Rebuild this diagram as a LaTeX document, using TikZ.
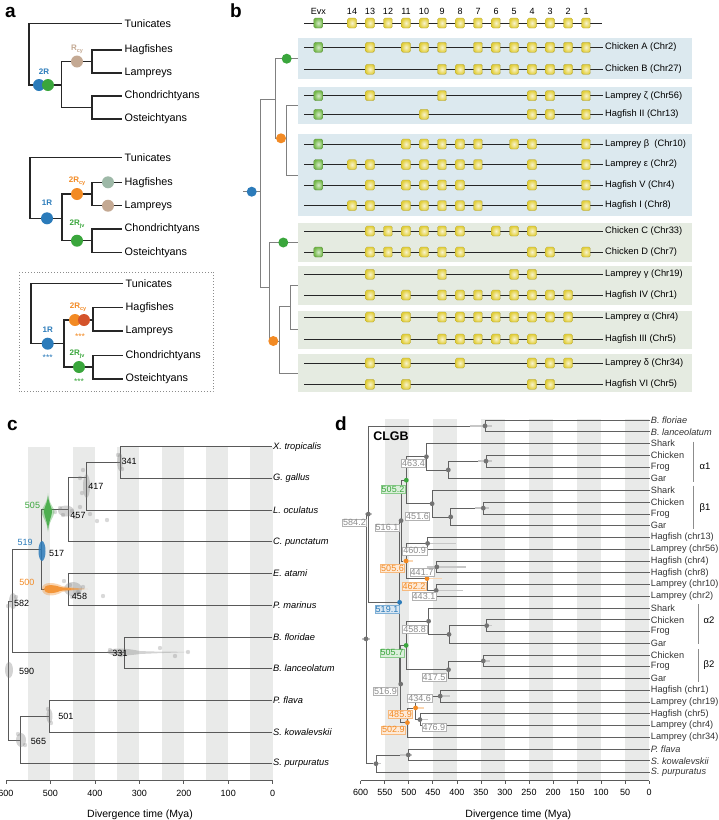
\documentclass[tikz,border=0pt]{standalone}
\usepackage{fontspec}
\setmainfont{Liberation Sans}
\usetikzlibrary{positioning,arrows.meta}

\definecolor{cblue}{HTML}{2B7BBA}
\definecolor{cgreen}{HTML}{3AA63C}
\definecolor{corange}{HTML}{F28A24}
\definecolor{ctan}{HTML}{C4A993}
\definecolor{csage}{HTML}{9EB9A8}
\definecolor{cred}{HTML}{D4532B}
\definecolor{bgblue}{HTML}{DCE9EF}
\definecolor{bggreen}{HTML}{E5EBE1}
\definecolor{band}{HTML}{E9EAE9}
\definecolor{hoxy}{HTML}{E2CF3C}
\definecolor{evxg}{HTML}{74B84A}

% small subscript for the event labels
\newcommand{\evsub}[1]{\raisebox{-0.45ex}{\fontsize{5.5}{6}\selectfont #1}}

% one row of panel b: name, y, label, genes (0 = Evx)
\newcommand{\hoxrow}[4]{%
  \coordinate (#1s) at (304.3,#2);
  \node[rowlab] (#1) at (603,#2) {#3};
  \draw[rowline] (#1s) -- (#1.west);
  \foreach \g in {#4}{%
    \ifnum\g=0
      \node[evxbox] (#1-\g) at (318.3,#2) {};
    \else
      \node[hoxbox] (#1-\g) at ({604-18*\g},#2) {};
    \fi}%
}

% shaded group of panel b: name, top, bottom, colour
\newcommand{\grpbox}[4]{%
  \fill[#4] (298.3,#2) rectangle (691.7,#3);
  \coordinate (#1) at (298.3,{(#2+#3)/2});
}

\begin{document}
\begin{tikzpicture}[x=1pt,y=-1pt,
	panel/.style={font=\bfseries\fontsize{19}{20}\selectfont, anchor=base west, inner sep=0pt},
	tree/.style={line width=1.2pt, draw=black!85},
	lab/.style={anchor=west, inner sep=2.5pt, font=\fontsize{10.8}{12}\selectfont},
	ev/.style={circle, inner sep=0pt, minimum size=12pt},
	evlab/.style={font=\bfseries\fontsize{8}{9}\selectfont, inner sep=0pt},
	stars/.style={font=\fontsize{8.5}{9}\selectfont, inner sep=0pt},
	btree/.style={draw=black!50, line width=0.8pt},
	bdot/.style={circle, inner sep=0pt, minimum size=10pt},
	rowline/.style={draw=black!85, line width=0.9pt},
	rowlab/.style={anchor=west, inner sep=2pt, font=\fontsize{9.3}{11}\selectfont},
	genelab/.style={font=\fontsize{9}{10}\selectfont, inner sep=0pt},
	hoxbox/.style={rectangle, rounded corners=1.5pt, minimum width=9pt, minimum height=10pt,
		inner sep=0pt, draw=hoxy!75!black, line width=0.3pt, inner color=hoxy!25, outer color=hoxy},
	evxbox/.style={hoxbox, draw=evxg!75!black, inner color=evxg!30, outer color=evxg},
	ctree/.style={draw=black!65, line width=0.7pt},
	ctip/.style={anchor=west, inner sep=1.5pt, font=\itshape\fontsize{9.3}{11}\selectfont},
	cnum/.style={font=\fontsize{9}{10}\selectfont, inner sep=0pt},
	axlab/.style={font=\fontsize{9}{10}\selectfont, inner sep=0pt},
	axtitle/.style={font=\fontsize{10.5}{12}\selectfont, inner sep=0pt},
	cloud/.style={fill=black!50, opacity=.35},
	dtree/.style={draw=black!62, line width=0.8pt},
	dtip/.style={anchor=west, inner sep=1.2pt, font=\fontsize{9.2}{10}\selectfont, text=black!80},
	dlab/.style={draw=black!30, fill=white, text=black!45, inner sep=0.8pt, line width=0.4pt,
		font=\fontsize{9}{10}\selectfont},
	dlabg/.style={dlab, draw=cgreen!60, fill=cgreen!18, text=cgreen},
	dlabo/.style={dlab, draw=corange!60, fill=corange!18, text=corange},
	dlabb/.style={dlab, draw=cblue!60, fill=cblue!18, text=cblue},
	dbar/.style={draw=black!22, line width=1.3pt},
	brk/.style={draw=black!45, line width=1.4pt},
	glab/.style={font=\fontsize{9.5}{10}\selectfont, inner sep=0pt}
	]
	\useasboundingbox (0,0) rectangle (719,820);

	% ---------------- a
	\node[panel] (pa) at (5,17) {a};
	% tree 1
	\node[lab] (t1tun) at (122,23.3) {Tunicates};
	\node[lab] (t1hag) at (122,50) {Hagfishes};
	\node[lab] (t1lam) at (122,73) {Lampreys};
	\node[lab] (t1cho) at (122,96) {Chondrichtyans};
	\node[lab] (t1ost) at (122,119) {Osteichtyans};
	\coordinate (t1r) at (29,54);
	\coordinate (t1v) at (61.7,85);
	\coordinate (t1c) at (92,61.5);
	\coordinate (t1g) at (92,107.5);
	\draw[tree] (t1r) |- (t1tun.west);
	\draw[tree] (t1r) |- (t1v);
	\draw[tree] (t1v) |- (t1c);
	\draw[tree] (t1v) |- (t1g);
	\draw[tree] (t1c) |- (t1hag.west);
	\draw[tree] (t1c) |- (t1lam.west);
	\draw[tree] (t1g) |- (t1cho.west);
	\draw[tree] (t1g) |- (t1ost.west);
	\node[ev, fill=cblue] (t1e1) at (39,85) {};
	\node[ev, fill=cgreen] (t1e2) at (48,85) {};
	\node[ev, fill=ctan] (t1e3) at (77,61.5) {};
	\node[evlab, text=cblue] (t1l1) at (44,72) {2R};
	\node[evlab, text=ctan] (t1l3) at (77,49.5) {R\evsub{cy}};

	% tree 2
	\node[lab] (t2tun) at (122,157.3) {Tunicates};
	\node[lab] (t2hag) at (122,182.3) {Hagfishes};
	\node[lab] (t2lam) at (122,205.7) {Lampreys};
	\node[lab] (t2cho) at (122,229) {Chondrichtyans};
	\node[lab] (t2ost) at (122,252.3) {Osteichtyans};
	\coordinate (t2r) at (30,187.8);
	\coordinate (t2v) at (62,218.3);
	\coordinate (t2c) at (92,194);
	\coordinate (t2g) at (92,240.7);
	\draw[tree] (t2r) |- (t2tun.west);
	\draw[tree] (t2r) |- (t2v);
	\draw[tree] (t2v) |- (t2c);
	\draw[tree] (t2v) |- (t2g);
	\draw[tree] (t2c) |- (t2hag.west);
	\draw[tree] (t2c) |- (t2lam.west);
	\draw[tree] (t2g) |- (t2cho.west);
	\draw[tree] (t2g) |- (t2ost.west);
	\node[ev, fill=cblue] (t2e1) at (47,218.3) {};
	\node[ev, fill=corange] (t2e2) at (77,194) {};
	\node[ev, fill=cgreen] (t2e3) at (77,240.7) {};
	\node[ev, fill=csage] (t2e4) at (108,182.3) {};
	\node[ev, fill=ctan] (t2e5) at (108,205.7) {};
	\node[evlab, text=cblue] (t2l1) at (47,203) {1R};
	\node[evlab, text=corange] (t2l2) at (77,181.5) {2R\evsub{cy}};
	\node[evlab, text=cgreen] (t2l3) at (77,224.5) {2R\evsub{jv}};

	% tree 3 (dotted frame)
	\draw[dotted, black!45, line width=0.9pt] (19,272) rectangle (213,391.7);
	\node[lab] (t3tun) at (123,283.3) {Tunicates};
	\node[lab] (t3hag) at (123,307.7) {Hagfishes};
	\node[lab] (t3lam) at (123,331) {Lampreys};
	\node[lab] (t3cho) at (123,355.7) {Chondrichtyans};
	\node[lab] (t3ost) at (123,379) {Osteichtyans};
	\coordinate (t3r) at (31,313.5);
	\coordinate (t3v) at (64,343.7);
	\coordinate (t3c) at (93,320);
	\coordinate (t3g) at (93,367);
	\draw[tree] (t3r) |- (t3tun.west);
	\draw[tree] (t3r) |- (t3v);
	\draw[tree] (t3v) |- (t3c);
	\draw[tree] (t3v) |- (t3g);
	\draw[tree] (t3c) |- (t3hag.west);
	\draw[tree] (t3c) |- (t3lam.west);
	\draw[tree] (t3g) |- (t3cho.west);
	\draw[tree] (t3g) |- (t3ost.west);
	\node[ev, fill=cblue] (t3e1) at (47.7,343.7) {};
	\node[ev, fill=corange] (t3e2) at (75,320) {};
	\node[ev, fill=cred] (t3e3) at (84,320) {};
	\node[ev, fill=cgreen] (t3e4) at (79,367) {};
	\node[evlab, text=cblue] (t3l1) at (47.7,329.5) {1R};
	\node[stars, text=cblue] (t3s1) at (47.7,358) {***};
	\node[evlab, text=corange] (t3l2) at (78,307) {2R\evsub{cy}};
	\node[stars, text=corange] (t3s2) at (80,336.5) {***};
	\node[evlab, text=cgreen] (t3l4) at (77,354) {2R\evsub{jv}};
	\node[stars, text=cgreen] (t3s4) at (79,381.5) {***};

	% ---------------- b
	\node[panel] (pb) at (230,17) {b};
	\grpbox{bg1}{38.3}{79}{bgblue}
	\grpbox{bg2}{86.7}{124}{bgblue}
	\grpbox{bg3}{134.3}{215.7}{bgblue}
	\grpbox{bg4}{223.3}{261.7}{bggreen}
	\grpbox{bg5}{266}{305}{bggreen}
	\grpbox{bg6}{310.7}{349}{bggreen}
	\grpbox{bg7}{354.3}{392.3}{bggreen}

	% gene names and full cluster
	\node[genelab] (g0) at (318.3,11) {Evx};
	\foreach \g in {1,...,14}
		\node[genelab] (g\g) at ({604-18*\g},11) {\g};
	\coordinate (hdrs) at (304.3,23);
	\coordinate (hdre) at (601.7,23);
	\draw[rowline] (hdrs) -- (hdre);
	\node[evxbox] (hdr-0) at (318.3,23) {};
	\foreach \g in {1,...,14}
		\node[hoxbox] (hdr-\g) at ({604-18*\g},23) {};

	\hoxrow{chA}{47.3}{Chicken A (Chr2)}{0,13,11,10,9,7,6,5,4,3,2,1}
	\hoxrow{chB}{69.3}{Chicken B (Chr27)}{13,9,8,7,6,5,4,3,2,1}
	\hoxrow{lmZ}{95.7}{Lamprey ζ (Chr56)}{0,13,9,4,3,1}
	\hoxrow{hgII}{114.3}{Hagfish II (Chr13)}{0,10,4,3,1}
	\hoxrow{lmB}{144}{Lamprey β \ (Chr10)}{0,11,10,9,8,7,5,4,1}
	\hoxrow{lmE}{164.5}{Lamprey ε (Chr2)}{0,14,13,11,10,9,8,7,4,1}
	\hoxrow{hgV}{185}{Hagfish V (Chr4)}{0,13,11,10,9,8,4,1}
	\hoxrow{hgI}{205.5}{Hagfish I (Chr8)}{14,13,11,10,9,8,7,4,1}
	\hoxrow{chC}{231}{Chicken C (Chr33)}{13,12,11,10,9,8,6,5,4}
	\hoxrow{chD}{252}{Chicken D (Chr7)}{0,13,12,11,10,9,8,4,3,1}
	\hoxrow{lmG}{274.3}{Lamprey γ (Chr19)}{13,9,5,4}
	\hoxrow{hgIV}{295}{Hagfish IV (Chr1)}{13,11,9,8,7,6,5,4,3,2}
	\hoxrow{lmA}{317}{Lamprey α (Chr4)}{13,11,9,8,7,6,5,4,3,2}
	\hoxrow{hgIII}{339}{Hagfish III (Chr5)}{11,9,8,7,6,5,4,2}
	\hoxrow{lmD}{363}{Lamprey δ (Chr34)}{13,11,8,4,3,2}
	\hoxrow{hgVI}{384.3}{Hagfish VI (Chr5)}{13,11,4,3}

	% tree of the clusters
	\coordinate (bstem) at (243,191.7);
	\coordinate (broot) at (260,191.7);
	\coordinate (bup) at (275,99);
	\coordinate (bupo) at (286.7,138.3);
	\coordinate (blow) at (269.3,287.3);
	\coordinate (blowo) at (279.3,341);
	\coordinate (blh) at (290,306.7);
	\draw[btree] (bstem) -- (broot);
	\draw[btree] (broot) |- (bup);
	\draw[btree] (broot) |- (blow);
	\draw[btree] (bup) |- (bg1);
	\draw[btree] (bup) |- (bupo);
	\draw[btree] (bupo) |- (bg2);
	\draw[btree] (bupo) |- (bg3);
	\draw[btree] (blow) |- (bg4);
	\draw[btree] (blow) |- (blowo);
	\draw[btree] (blowo) |- (blh);
	\draw[btree] (blowo) |- (bg7);
	\draw[btree] (blh) |- (bg5);
	\draw[btree] (blh) |- (bg6);
	\node[bdot, fill=cblue] (be1) at (251.7,191.7) {};
	\node[bdot, fill=cgreen] (be2) at (286.7,58.7) {};
	\node[bdot, fill=corange] (be3) at (281,138.3) {};
	\node[bdot, fill=cgreen] (be4) at (283.3,242.5) {};
	\node[bdot, fill=corange] (be5) at (273.3,341) {};

	% ---------------- c
	\node[panel] (pc) at (7,430) {c};
	\foreach \t in {550,450,350,250,150,50}
		\fill[band] ({272.7-0.4445*\t},446.7) rectangle ({272.7-0.4445*(\t-50)},780.7);
	\coordinate (cax0) at (6,780.7);
	\coordinate (cax1) at (272.7,780.7);
	\draw[ctree] (cax0) -- (cax1);
	\foreach \t in {0,100,...,600}{
		\draw[ctree] ({272.7-0.4445*\t},780.7) -- ({272.7-0.4445*\t},784);
		\node[axlab] (cx\t) at ({272.7-0.4445*\t},793.3) {\t};
	}
	\node[axtitle] (ctitle) at (140,815) {Divergence time (Mya)};

	\foreach \i/\t in {0/X. tropicalis,1/G. gallus,2/L. oculatus,3/C. punctatum,4/E. atami,
		5/P. marinus,6/B. floridae,7/B. lanceolatum,8/P. flava,9/S. kowalevskii,10/S. purpuratus}
		\node[ctip] (ct\i) at (271.5,{446.7+31.7*\i}) {\t};

	\foreach \n/\x/\y in {c341/120/462.5, c417/86.7/477, c457/68.5/509.4, c517/41.5/549.4,
		c458/68.5/589.4, c331/124.3/652.8, c582/12.7/601.1, c501/49/716.2, c565/20.7/740,
		c590/8.5/670.5}
		\coordinate (\n) at (\x,\y);
	\foreach \p/\c in {c341/ct0, c341/ct1, c417/c341, c417/ct2, c457/c417, c457/ct3,
		c517/c457, c517/c458, c458/ct4, c458/ct5, c331/ct6, c331/ct7, c582/c517, c582/c331,
		c501/ct8, c501/ct9, c565/c501, c565/ct10, c590/c582, c590/c565}
		\draw[ctree] (\p) |- (\c);

	% dating clouds
	\fill[cloud] (120,462) ellipse (2.8pt and 9pt);
	\fill[cloud] (86.5,486) ellipse (3.5pt and 12pt);
	\fill[cloud] (66,511) ellipse (8pt and 5.5pt);
	\fill[cloud] (13,601) ellipse (4pt and 8pt);
	\fill[cloud] (9,670) ellipse (4pt and 8pt);
	\fill[cloud] (49.5,716) ellipse (3pt and 7pt);
	\fill[cloud] (21,740) ellipse (5pt and 7pt);
	\fill[cloud] (73,589) ellipse (9pt and 7pt);
	\fill[cloud] (107,652) .. controls (110,647) and (125,648) .. (140,651)
		.. controls (160,652) and (180,651.5) .. (189,652)
		.. controls (180,652.5) and (160,653) .. (140,654)
		.. controls (125,656) and (110,657) .. (107,652) -- cycle;
	\foreach \x/\y in {60/508,63/515,72/511,75/517,80/507,90/514,97/521,107/520,55/512,
		80/478,83/470,82/493,64/581,70/585,78/592,83/587,72/597,103/596,
		110/650,121/655,160/648,175/656,188/652,8/606,16/597,18/734,25/745,48/709,51/723,
		118/455,122/469}
		\fill[black!50, opacity=.3] (\x,\y) circle (2.2pt);
	\fill[cgreen, opacity=.35] (48,493) .. controls (49,505) and (55,508) .. (54.5,512)
		.. controls (54,517) and (49,521) .. (48,532) .. controls (47,521) and (42,517) .. (41.5,512)
		.. controls (41,508) and (47,505) .. (48,493);
	\fill[cgreen!90] (48,496) .. controls (49,505) and (52.5,508) .. (52,512)
		.. controls (51.5,517) and (49,520) .. (48,530) .. controls (47,520) and (44.5,517) .. (44,512)
		.. controls (43.5,508) and (47,505) .. (48,496);
	\fill[cblue, opacity=.85] (42,551) ellipse (3.5pt and 10pt);
	\fill[corange, opacity=.35] (42,589) .. controls (42,581) and (55,582) .. (62,586)
		.. controls (70,587.5) and (80,588.5) .. (88,589) .. controls (80,589.5) and (70,590.5) .. (62,592)
		.. controls (55,597) and (42,597) .. (42,589);
	\fill[corange!90] (44,589) .. controls (44,584) and (54,584.5) .. (60,587)
		.. controls (66,588) and (75,588.7) .. (84,589) .. controls (75,589.3) and (66,590) .. (60,591)
		.. controls (54,594) and (44,594) .. (44,589);

	\node[cnum] (cl341) at (129.2,461) {341};
	\node[cnum] (cl417) at (95.8,486.7) {417};
	\node[cnum] (cl457) at (78,515) {457};
	\node[cnum] (cl517) at (56.7,553.3) {517};
	\node[cnum] (cl458) at (79.5,596.7) {458};
	\node[cnum] (cl582) at (21.7,603.3) {582};
	\node[cnum] (cl331) at (120,653.3) {331};
	\node[cnum] (cl590) at (26.7,671) {590};
	\node[cnum] (cl501) at (65.8,716.7) {501};
	\node[cnum] (cl565) at (38.5,741.7) {565};
	\node[cnum, text=cgreen] (cl505) at (32.5,505) {505};
	\node[cnum, text=cblue] (cl519) at (25.2,542.3) {519};
	\node[cnum, text=corange] (cl500) at (26.8,582.3) {500};

	% ---------------- d
	\node[panel] (pd) at (335,430) {d};
	\foreach \t in {550,450,350,250,150,50}
		\fill[band] ({649.2-0.4808*\t},419.3) rectangle ({649.2-0.4808*(\t-50)},780.7);
	\coordinate (dax0) at (360.7,780.7);
	\coordinate (dax1) at (649.2,780.7);
	\draw[ctree] (dax0) -- (dax1);
	\foreach \t in {0,50,...,600}{
		\draw[ctree] ({649.2-0.4808*\t},780.7) -- ({649.2-0.4808*\t},784);
		\node[axlab] (dx\t) at ({649.2-0.4808*\t},792.7) {\t};
	}
	\node[axtitle] (dtitle) at (518.3,814.3) {Divergence time (Mya)};
	\node[font=\bfseries\fontsize{12.5}{13}\selectfont, inner sep=0pt] (clgb) at (391,436) {CLGB};

	\foreach \i/\t in {0/\textit{B. floriae},1/\textit{B. lanceolatum},2/Shark,3/Chicken,4/Frog,5/Gar,
		6/Shark,7/Chicken,8/Frog,9/Gar,10/Hagfish (chr13),11/Lamprey (chr56),12/Hagfish (chr4),
		13/Hagfish (chr8),14/Lamprey (chr10),15/Lamprey (chr2),16/Shark,17/Chicken,18/Frog,19/Gar,
		20/Chicken,21/Frog,22/Gar,23/Hagfish (chr1),24/Lamprey (chr19),25/Hagfish (chr5),
		26/Lamprey (chr4),27/Lamprey (chr34),28/\textit{P. flava},29/\textit{S. kowalevskii},
		30/\textit{S. purpuratus}}
		\node[dtip] (dt\i) at (649.5,{420+11.75*\i}) {\t};

	\foreach \n/\x/\y in {dAmph/485/425.9, dCF1/486/461.1, dCFG1/448.3/469.9, dA1/426.4/456.7,
		dCF2/483.3/508.1, dCFG2/450.7/516.9, dB1/432.1/503.7, dG1/406.3/480.2,
		dH13/427.6/543.4, dH48/436.8/566.9, dL102/436.2/590.4, dO1/427/578.6, dC1/406.1/561,
		dV1/401.1/520.6, dCF3/486.7/625.6, dCFG3/449/634.4, dA2/428.6/621.2, dCF4/483.3/660.9,
		dB2/448.5/669.7, dG2/406.1/645.4, dH1/440.2/696.1, dH5/419.9/719.6, dO2/415.6/707.9,
		dC2/407.4/722.6, dV2/400.7/684, dVt/399.6/602.3, dChor/368.3/514.1,
		dHemi/408.3/754.9, dAmb/376/763.7, dRoot/366/638.9}
		\coordinate (\n) at (\x,\y);
	\foreach \p/\c in {dAmph/dt0, dAmph/dt1, dCF1/dt3, dCF1/dt4, dCFG1/dCF1, dCFG1/dt5,
		dA1/dt2, dA1/dCFG1, dCF2/dt7, dCF2/dt8, dCFG2/dCF2, dCFG2/dt9, dB1/dt6, dB1/dCFG2,
		dG1/dA1, dG1/dB1, dH13/dt10, dH13/dt11, dH48/dt12, dH48/dt13, dL102/dt14, dL102/dt15,
		dO1/dH48, dO1/dL102, dC1/dH13, dC1/dO1, dV1/dG1, dV1/dC1,
		dCF3/dt17, dCF3/dt18, dCFG3/dCF3, dCFG3/dt19, dA2/dt16, dA2/dCFG3,
		dCF4/dt20, dCF4/dt21, dB2/dCF4, dB2/dt22, dG2/dA2, dG2/dB2,
		dH1/dt23, dH1/dt24, dH5/dt25, dH5/dt26, dO2/dH1, dO2/dH5, dC2/dO2, dC2/dt27,
		dV2/dG2, dV2/dC2, dVt/dV1, dVt/dV2, dChor/dAmph, dChor/dVt,
		dHemi/dt28, dHemi/dt29, dAmb/dHemi, dAmb/dt30, dRoot/dChor, dRoot/dAmb}
		\draw[dtree] (\p) |- (\c);

	% 95% intervals
	\foreach \a/\b/\y in {470/491.7/425.9, 478/492/461.1, 475/489/508.1, 428/456/543.4,
		426.7/466/566.9, 436.7/463/590.4, 438/450/696.1, 418/428/719.6, 485/492/625.6,
		481.7/490/660.9, 400/411.7/754.9, 373/381/763.7, 365/372/514.1, 362/370/638.9}
		\draw[dbar] (\a,\y) -- (\b,\y);
	\draw[dbar, draw=corange!35] (425,578.6) -- (441.7,578.6);
	\draw[dbar, draw=corange!35] (403,561) -- (413,561);
	\draw[dbar, draw=corange!35] (413,707.9) -- (424,707.9);

	\foreach \n in {dAmph, dCF1, dCFG1, dA1, dCF2, dCFG2, dB1, dH13, dH48, dL102, dV1,
		dCF3, dCFG3, dA2, dCF4, dB2, dH1, dH5, dV2, dChor, dHemi, dAmb, dRoot}
		\fill[black!55] (\n) circle (2.4pt);
	\fill[cgreen] (dG1) circle (2.4pt);
	\fill[cgreen] (dG2) circle (2.4pt);
	\fill[corange] (dC1) circle (2.4pt);
	\fill[corange] (dO1) circle (2.4pt);
	\fill[corange] (dO2) circle (2.4pt);
	\fill[corange] (dC2) circle (2.4pt);
	\fill[cblue] (dVt) circle (2.4pt);

	\node[dlab] (dl5842) at (354.5,522.7) {584.2};
	\node[dlab] (dl5161) at (387,527.7) {516.1};
	\node[dlabg] (dl5052) at (393,489.5) {505.2};
	\node[dlab] (dl4634) at (413.5,463.3) {463.4};
	\node[dlab] (dl4516) at (417.5,516) {451.6};
	\node[dlab] (dl4609) at (414.7,550.8) {460.9};
	\node[dlabo] (dl5056) at (392.5,568) {505.6};
	\node[dlab] (dl4417) at (422,572) {441.7};
	\node[dlabo] (dl4622) at (414,586) {462.2};
	\node[dlab] (dl4431) at (424,596.3) {443.1};
	\node[dlabb] (dl5191) at (387,609) {519.1};
	\node[dlab] (dl4588) at (414.7,629.2) {458.8};
	\node[dlabg] (dl5057) at (392,652.8) {505.7};
	\node[dlab] (dl4175) at (434,677.5) {417.5};
	\node[dlab] (dl5169) at (385.5,691) {516.9};
	\node[dlab] (dl4346) at (419.7,698.3) {434.6};
	\node[dlabo] (dl4859) at (400.5,714.2) {485.9};
	\node[dlabo] (dl5029) at (393.3,729.8) {502.9};
	\node[dlab] (dl4769) at (433.8,727.5) {476.9};

	% paralogue groups
	\coordinate (ga1t) at (693.3,441.7);
	\coordinate (ga1b) at (693.3,481.7);
	\coordinate (gb1t) at (693.3,485.7);
	\coordinate (gb1b) at (693.3,529);
	\coordinate (ga2t) at (698.3,604.3);
	\coordinate (ga2b) at (698.3,644);
	\coordinate (gb2t) at (698.3,649);
	\coordinate (gb2b) at (698.3,681.7);
	\draw[brk] (ga1t) -- (ga1b);
	\draw[brk] (gb1t) -- (gb1b);
	\draw[brk] (ga2t) -- (ga2b);
	\draw[brk] (gb2t) -- (gb2b);
	\node[glab] (la1) at (705,466.7) {α1};
	\node[glab] (lb1) at (705,508.3) {β1};
	\node[glab] (la2) at (709,620) {α2};
	\node[glab] (lb2) at (709,665) {β2};
\end{tikzpicture}
\end{document}
